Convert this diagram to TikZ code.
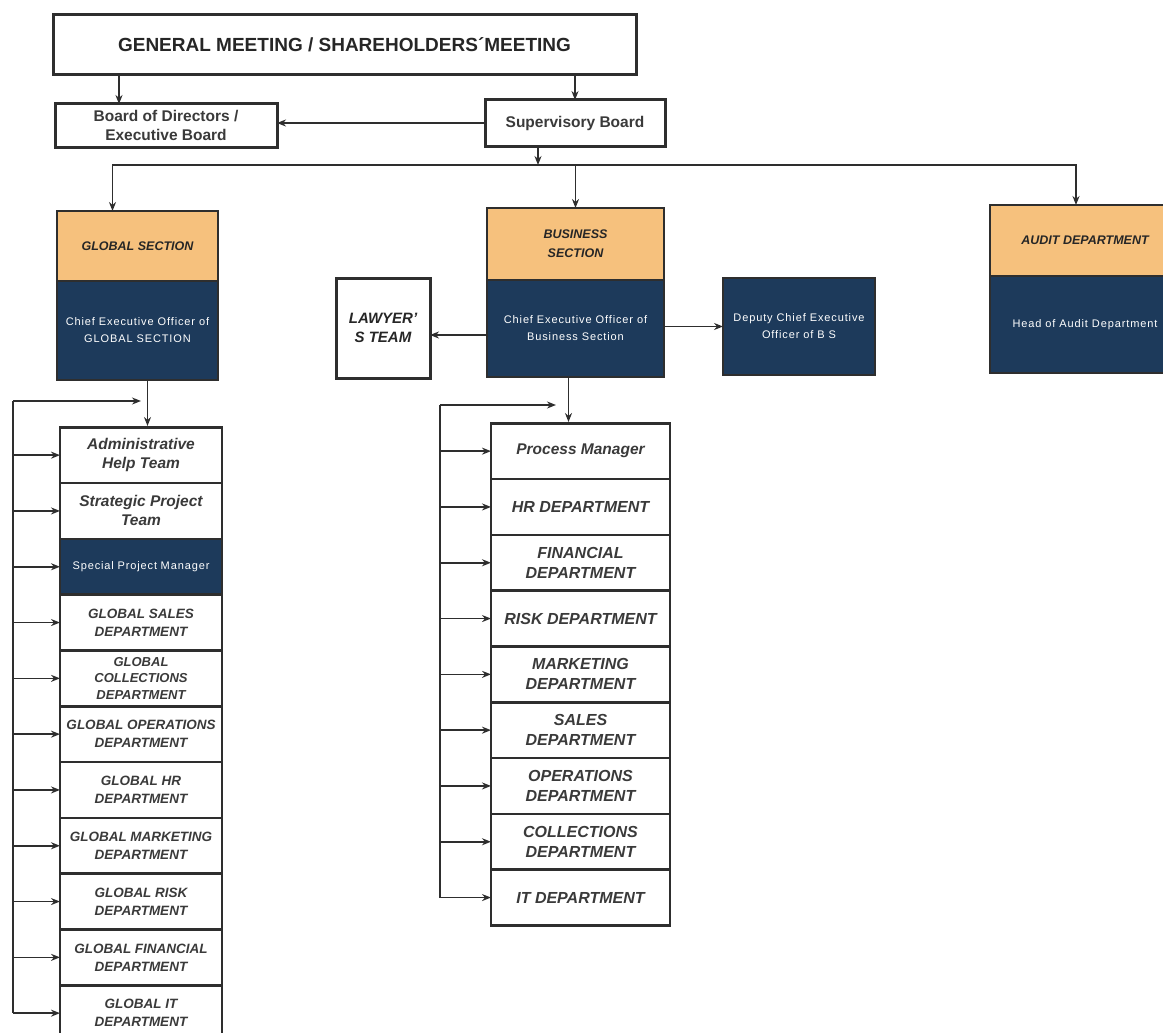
\documentclass[tikz,border=0pt]{standalone}
\usepackage{fontspec}
\setmainfont{Liberation Sans}
\newfontfamily\ceofamily[LetterSpace=8]{Liberation Sans}
\usepackage{tikz}
\usetikzlibrary{matrix,positioning,arrows.meta}

\definecolor{linegray}{HTML}{2E2E2E}
\definecolor{txtgray}{HTML}{3A3A3A}
\definecolor{secorange}{HTML}{F6C17D}
\definecolor{ceonavy}{HTML}{1D3A5B}

\newcommand{\gmtxt}{\fontsize{19}{23}\selectfont\bfseries}
\newcommand{\boardtxt}{\fontsize{15.5}{18.5}\selectfont\bfseries}
\newcommand{\sectxt}{\fontsize{12.5}{19}\selectfont\bfseries\itshape}
\newcommand{\ceotxt}{\ceofamily\fontsize{11}{17}\selectfont}
\newcommand{\lawtxt}{\fontsize{15}{19}\selectfont\bfseries\itshape}
\newcommand{\glotxt}{\fontsize{13.5}{18}\selectfont\bfseries\itshape}
\newcommand{\glothree}{\fontsize{13}{16.5}\selectfont\bfseries\itshape}
\newcommand{\glomix}{\fontsize{15.5}{19}\selectfont\bfseries\itshape}
\newcommand{\bustxt}{\fontsize{16}{20}\selectfont\bfseries\itshape}

\tikzset{
    box/.style={draw=linegray, line width=2.5pt, fill=white, text=txtgray, align=center, inner sep=1pt, outer sep=0pt},
    sechead/.style={box, fill=secorange, text=black!85, font=\sectxt},
    ceo/.style={box, fill=ceonavy, text=white, font=\ceotxt},
    arr/.style={draw=linegray, line width=1.6pt, -{Stealth[length=9pt,width=7pt]}},
    ln/.style={draw=linegray, line width=1.6pt},
}

\begin{document}
\begin{tikzpicture}[x=1pt, y=-1pt]
            \useasboundingbox (0,0) rectangle (1163,1033);
            \clip (0,0) rectangle (1163,1033);

            % top of the chart
            \node[box, line width=3pt, minimum width=583pt, minimum height=60pt, font=\gmtxt, text=black!85] (gm) at (344.5,45) {GENERAL MEETING / SHAREHOLDERS´MEETING};
            \node[box, line width=3pt, minimum width=222pt, minimum height=43pt, font=\boardtxt] (board) at (166,125.5) {Board of Directors /\\Executive Board};
            \node[box, line width=3pt, minimum width=180pt, minimum height=46pt, font=\boardtxt] (sup) at (575,123) {Supervisory Board};

            % sections
            \node[sechead, minimum width=161pt, minimum height=70pt] (gsec) at (137.5,246) {GLOBAL SECTION};
            \node[ceo, minimum width=161pt, minimum height=99pt, below=0pt of gsec] (gceo) {Chief Executive Officer of\\GLOBAL SECTION};
            \node[sechead, minimum width=177pt, minimum height=72pt] (bsec) at (575.5,244) {BUSINESS\\SECTION};
            \node[ceo, minimum width=177pt, minimum height=97pt, below=0pt of bsec] (bceo) {Chief Executive Officer of\\Business Section};
            \node[sechead, minimum width=190pt, minimum height=71pt] (audit) at (1085,240.5) {AUDIT DEPARTMENT};
            \node[ceo, minimum width=190pt, minimum height=97pt, below=0pt of audit] (aceo) {Head of Audit Department};

            \node[box, line width=3pt, minimum width=94pt, minimum height=100pt, font=\lawtxt, text=black!85] (lawyer) at (383,328) {LAWYER’\\S TEAM};
            \node[ceo, minimum width=152pt, minimum height=97pt] (deputy) at (799,326.5) {Deputy Chief Executive\\Officer of B S};

            % global list
            \matrix[matrix of nodes,
                    nodes={box, align=flush center, minimum width=162pt, minimum height=55.8pt, text width=158pt, anchor=center, font=\glotxt},
                    row sep=-2.5pt,
                    inner sep=0pt, outer sep=0pt,
                    anchor=north] (g) at (141,426) {
            |[font=\glomix]| {Administrative\\Help Team} \\
            |[font=\glomix]| {Strategic Project\\Team} \\
            |[ceo]| Special Project Manager \\
            {GLOBAL SALES\\DEPARTMENT} \\
            |[font=\glothree]| {GLOBAL\\COLLECTIONS\\DEPARTMENT} \\
            {GLOBAL OPERATIONS\\DEPARTMENT} \\
            {GLOBAL HR\\DEPARTMENT} \\
            {GLOBAL MARKETING\\DEPARTMENT} \\
            {GLOBAL RISK\\DEPARTMENT} \\
            {GLOBAL FINANCIAL\\DEPARTMENT} \\
            {GLOBAL IT\\DEPARTMENT} \\
            };

            % business list
            \matrix[matrix of nodes,
                    nodes={box, align=flush center, minimum width=179pt, minimum height=55.8pt, text width=175pt, anchor=center, font=\bustxt},
                    row sep=-2.5pt,
                    inner sep=0pt, outer sep=0pt,
                    anchor=north] (b) at (580.5,422) {
            |[font=\fontsize{15.5}{19}\selectfont\bfseries\itshape]| Process Manager \\
            HR DEPARTMENT \\
            {FINANCIAL\\DEPARTMENT} \\
            RISK DEPARTMENT \\
            {MARKETING\\DEPARTMENT} \\
            {SALES\\DEPARTMENT} \\
            {OPERATIONS\\DEPARTMENT} \\
            {COLLECTIONS\\DEPARTMENT} \\
            IT DEPARTMENT \\
            };

            % connectors
            \draw[arr] ([xshift=-47pt]board.north |- gm.south) -- ([xshift=-47pt]board.north);
            \draw[arr] (sup.north |- gm.south) -- (sup.north);
            \draw[arr] (sup.west) -- (sup.west -| board.east);

            \coordinate (bus) at (538,165);
            \draw[arr] (sup.south -| bus) -- (bus);
            \draw[arr] (bus) -| ([xshift=-25pt]gsec.north);
            \draw[arr] (bus) -| (bsec.north);
            \draw[arr] (bus) -| ([xshift=-9pt]audit.north);

            \draw[arr] ([yshift=-7pt]bceo.west |- lawyer.east) -- ([yshift=-7pt]lawyer.east);
            \draw[arr] (bceo.east |- deputy.west) -- (deputy.west);

            \draw[arr] ([xshift=10pt]gceo.south) -- ([xshift=10pt]gceo.south |- g.north);
            \draw[arr] ([xshift=-7pt]bceo.south) -- ([xshift=-7pt]bceo.south |- b.north);

            % side loops
            \coordinate (gloop) at (13,401);
            \coordinate (gtip) at (141,401);
            \draw[arr] (gloop) -- (gtip);
            \draw[ln] (gloop) -- (gloop |- g-11-1.west);
            \foreach \i in {1,...,11}
                \draw[arr] (gloop |- g-\i-1.west) -- (g-\i-1.west);

            \coordinate (bloop) at (440,405);
            \coordinate (btip) at (556,405);
            \draw[arr] (bloop) -- (btip);
            \draw[ln] (bloop) -- (bloop |- b-9-1.west);
            \foreach \i in {1,...,9}
                \draw[arr] (bloop |- b-\i-1.west) -- (b-\i-1.west);
        \end{tikzpicture}
\end{document}
